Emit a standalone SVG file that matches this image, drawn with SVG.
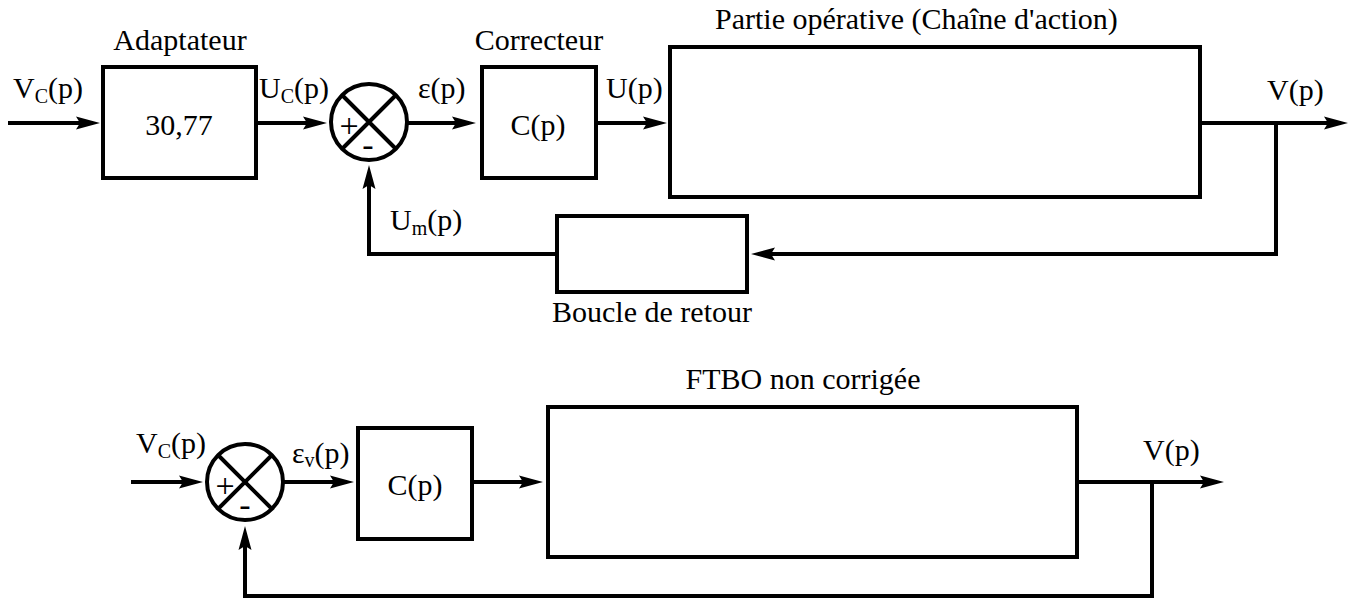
<svg xmlns="http://www.w3.org/2000/svg" width="1352" height="599" viewBox="0 0 1352 599" font-family="'Liberation Serif', 'Times New Roman', 'DejaVu Serif', serif" font-size="30">
<style>
.w{fill:#fff;stroke:#000;stroke-width:4}
.c{fill:none;stroke:#000;stroke-width:4}
.a{fill:none;stroke:#000;stroke-width:4;marker-end:url(#ar)}
text{fill:#000}
.m{text-anchor:middle}
.s{font-size:20px}
.sg{font-size:34px;text-anchor:middle}
</style>
<defs>
<marker id="ar" viewBox="0 0 24 14" refX="17" refY="7" markerWidth="24" markerHeight="14" orient="auto" markerUnits="userSpaceOnUse">
<path d="M0,0.5 L24,7 L0,13.5 L4,7 Z" fill="#000"/>
</marker>
</defs>
<rect width="1352" height="599" fill="#fff"/>
<g id="connectors">
<path class="a" d="M8,123 H93"/>
<path class="a" d="M256,123 H320"/>
<path class="a" d="M407,123 H469"/>
<path class="a" d="M596,123 H660"/>
<path class="a" d="M1200,123 H1341"/>
<path class="a" d="M1276,123 V254 H758"/>
<path class="a" d="M557,254 H369 V172"/>
<path class="a" d="M131,482 H196"/>
<path class="a" d="M283,482 H347"/>
<path class="a" d="M472,482 H536"/>
<path class="a" d="M1077,482 H1217"/>
<path class="a" d="M1152,482 V596 H245 V533"/>
</g>
<g id="adaptateur">
<rect class="w" x="103" y="67" width="153" height="111"/>
<text class="m" x="180" y="50">Adaptateur</text>
<text class="m" x="179" y="135">30,77</text>
</g>
<g id="sum1">
<circle class="w" cx="369" cy="122" r="38"/>
<path class="c" d="M342,95 L396,149 M396,95 L342,149"/>
<text class="sg" x="349" y="137">+</text>
<text class="sg" x="368" y="156">-</text>
</g>
<g id="correcteur">
<rect class="w" x="482" y="67" width="114" height="111"/>
<text class="m" x="539" y="50">Correcteur</text>
<text class="m" x="538" y="135">C(p)</text>
</g>
<g id="partie-operative">
<rect class="w" x="670" y="47" width="530" height="150"/>
<text x="715" y="29">Partie opérative (Chaîne d'action)</text>
</g>
<g id="boucle-retour">
<rect class="w" x="557" y="216" width="190" height="76"/>
<text class="m" x="652" y="322">Boucle de retour</text>
</g>
<g id="labels-top">
<text x="13" y="98">V<tspan class="s" dy="5">C</tspan><tspan dy="-5">(p)</tspan></text>
<text x="259" y="98">U<tspan class="s" dy="5">C</tspan><tspan dy="-5">(p)</tspan></text>
<text x="418" y="98">ε(p)</text>
<text x="606" y="98">U(p)</text>
<text x="1267" y="100">V(p)</text>
<text x="390" y="230">U<tspan class="s" dy="5">m</tspan><tspan dy="-5">(p)</tspan></text>
</g>
<g id="sum2">
<circle class="w" cx="245" cy="482" r="38"/>
<path class="c" d="M218,455 L272,509 M272,455 L218,509"/>
<text class="sg" x="225" y="497">+</text>
<text class="sg" x="245" y="516">-</text>
</g>
<g id="correcteur2">
<rect class="w" x="358" y="428" width="114" height="111"/>
<text class="m" x="415" y="495">C(p)</text>
</g>
<g id="ftbo">
<rect class="w" x="548" y="407" width="529" height="150"/>
<text class="m" x="803" y="389">FTBO non corrigée</text>
</g>
<g id="labels-bottom">
<text x="136" y="453">V<tspan class="s" dy="5">C</tspan><tspan dy="-5">(p)</tspan></text>
<text x="292" y="463">ε<tspan class="s" dy="4">v</tspan><tspan dy="-4">(p)</tspan></text>
<text x="1143" y="460">V(p)</text>
</g>
</svg>
